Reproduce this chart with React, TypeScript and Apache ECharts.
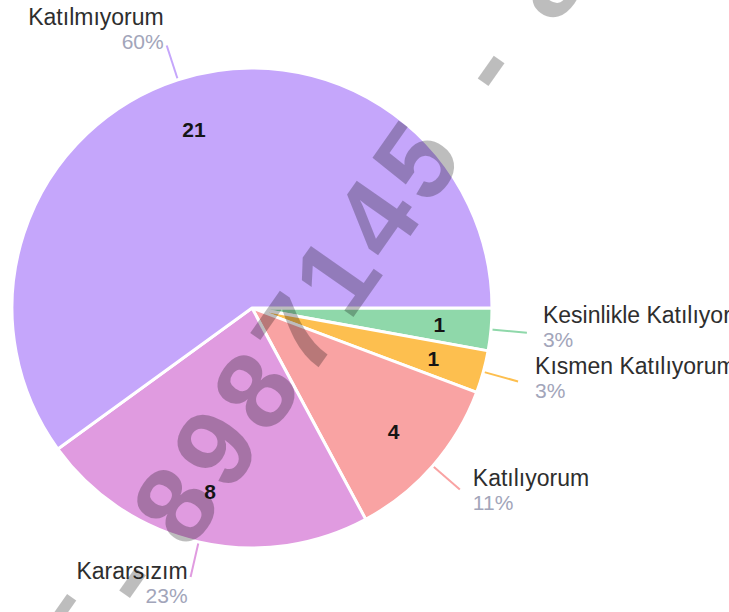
import React, { useEffect, useRef } from "react";
import * as echarts from "echarts";

const categories = [
  "Kesinlikle Katılıyorum",
  "Kısmen Katılıyorum",
  "Katılıyorum",
  "Kararsızım",
  "Katılmıyorum",
];
const values = [1, 1, 4, 8, 21];
const colors = ["#8fd8aa", "#fdbf4f", "#f9a3a3", "#e09be0", "#c5a6fb"];
const labelPadding = [
  [0, 0, 12, 0],
  [0, 0, 6, 0],
  [0, 0, 0, 0],
  [12, 0, 0, 0],
  [0, 0, 34, 0],
];
const labelGap = [16, 17, 13, 3, 3];

// decorative watermark
const watermarkChars = ["5", "-", "8", "9", "8", "7", "1", "4", "5", "-", "8"];
const watermarkSteps = [-158, -88, 0, 70, 140, 210, 280, 350, 420, 537, 640];

const FONT = "'Liberation Sans', Arial, sans-serif";

export default function App() {
  const ref = useRef<HTMLDivElement>(null);
  useEffect(() => {
    if (!ref.current) return;
    const chart = echarts.init(ref.current, null, { renderer: "svg" });
    const ang = (55 * Math.PI) / 180;
    const ax = 175,
      ay = 505;
    const wm = watermarkChars.map((ch, i) => ({
      type: "text",
      x: ax + Math.cos(ang) * watermarkSteps[i],
      y: ay - Math.sin(ang) * watermarkSteps[i],
      rotation: ang,
      z: 100,
      silent: true,
      style: {
        text: ch,
        fontSize: 110,
        fontWeight: "bold",
        fontFamily: FONT,
        fill: "rgba(0,0,0,0.26)",
        align: "center",
        verticalAlign: "middle",
      },
    }));
    const data = categories.map((name, i) => ({
      name,
      value: values[i],
      itemStyle: { color: colors[i] },
      label: { padding: labelPadding[i], distanceToLabelLine: labelGap[i] },
    }));
    chart.setOption({
      animation: false,
      backgroundColor: "#ffffff",
      series: [
        {
          type: "pie",
          center: [252, 308],
          radius: 240,
          startAngle: 0,
          clockwise: true,
          avoidLabelOverlap: false,
          percentPrecision: 0,
          itemStyle: { borderColor: "#ffffff", borderWidth: 3 },
          label: {
            show: true,
            position: "outside",
            formatter: "{n|{b}}\n{p|{d}%}",
            overflow: "none",
            fontFamily: FONT,
            rich: {
              n: { fontSize: 23, color: "#2e2e2e", fontFamily: FONT, lineHeight: 25 },
              p: { fontSize: 21, color: "#a2a5ba", fontFamily: FONT, lineHeight: 24 },
            },
          },
          labelLine: { show: true, length: 36, length2: 0, smooth: false, lineStyle: { width: 2 } },
          emphasis: { disabled: true },
          data,
        },
        {
          type: "pie",
          center: [252, 308],
          radius: [130, 240],
          startAngle: 0,
          clockwise: true,
          silent: true,
          avoidLabelOverlap: false,
          itemStyle: { color: "transparent", borderWidth: 0 },
          label: {
            show: true,
            position: "inside",
            formatter: "{c}",
            fontSize: 21,
            fontWeight: "bold",
            color: "#151515",
            fontFamily: FONT,
          },
          labelLine: { show: false },
          emphasis: { disabled: true },
          data: categories.map((name, i) => ({ name, value: values[i] })),
        },
      ],
      graphic: wm,
    });
    return () => chart.dispose();
  }, []);
  return (
    <div
      ref={ref}
      style={{ position: "fixed", left: 0, top: 0, width: 729, height: 612 }}
    />
  );
}
